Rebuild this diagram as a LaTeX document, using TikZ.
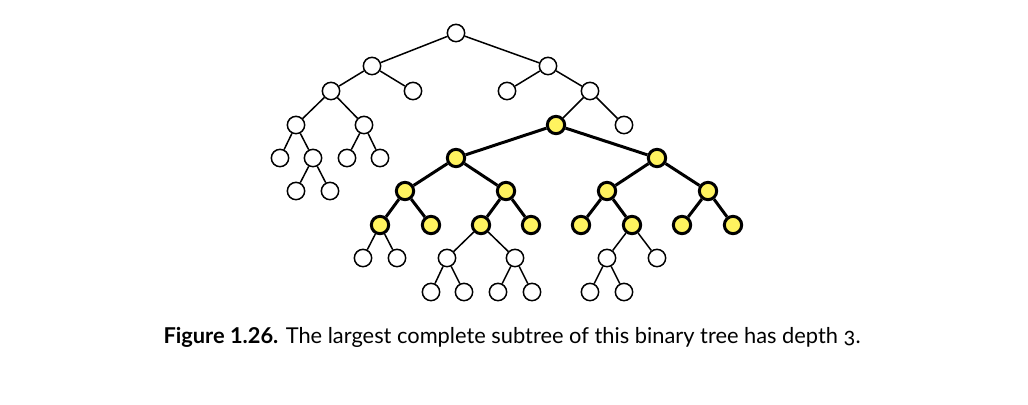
\documentclass[tikz,border=0pt]{standalone}
\usepackage{fontspec}
\setmainfont{Lato}
\definecolor{subtree}{HTML}{FFF35F}

\begin{document}
\begin{tikzpicture}[x=0.6pt,y=-0.6pt,
    vtx/.style={circle,draw,fill=white,line width=0.9pt,minimum size=10.4pt,inner sep=0pt},
    hot/.style={vtx,fill=subtree,line width=1.8pt},
    hotedge/.style={line width=1.8pt}]
  \useasboundingbox (0,0) rectangle (1028,404);
  % Plain vertices
  \foreach \n/\x/\y in {r/456/33, n0/372/66, n1/548/66,
      n00/331/91, n01/413/91, n10/507/91, n11/590/91,
      n000/296/125, n001/364/125, n111/624/125,
      n0000/280/158, n0001/313/158, n0010/347/158, n0011/380/158,
      n00010/296/191, n00011/330/191,
      n1100000/363/258, n1100001/397/258,
      n1100100/447/258, n1100101/515/258,
      n1101010/607/258, n1101011/657/258,
      n11001000/431/292, n11001001/464/292,
      n11001010/498/292, n11001011/532/292,
      n11010100/590/292, n11010101/624/292}
    \node[vtx] (\n) at (\x,\y) {};
  % Complete subtree
  \foreach \n/\x/\y in {n110/556/125,
      n1100/456/158, n1101/657/158,
      n11000/405/191, n11001/506/191, n11010/607/191, n11011/708/191,
      n110000/380/225, n110001/431/225, n110010/481/225, n110011/531/225,
      n110100/581/225, n110101/632/225, n110110/682/225, n110111/733/225}
    \node[hot] (\n) at (\x,\y) {};
  % Edges
  \foreach \a/\b in {r/n0, r/n1, n0/n00, n0/n01, n1/n10, n1/n11,
      n00/n000, n00/n001, n11/n110, n11/n111,
      n000/n0000, n000/n0001, n001/n0010, n001/n0011,
      n0001/n00010, n0001/n00011,
      n110000/n1100000, n110000/n1100001,
      n110010/n1100100, n110010/n1100101,
      n110101/n1101010, n110101/n1101011,
      n1100100/n11001000, n1100100/n11001001,
      n1100101/n11001010, n1100101/n11001011,
      n1101010/n11010100, n1101010/n11010101}
    \draw[line width=0.9pt] (\a) -- (\b);
  \foreach \a/\b in {n110/n1100, n110/n1101,
      n1100/n11000, n1100/n11001, n1101/n11010, n1101/n11011,
      n11000/n110000, n11000/n110001, n11001/n110010, n11001/n110011,
      n11010/n110100, n11010/n110101, n11011/n110110, n11011/n110111}
    \draw[hotedge] (\a) -- (\b);
  % Caption
  \node (cap) at (512,337) {\fontsize{13.1pt}{16pt}\selectfont
    \textbf{Figure 1.26.} The largest complete subtree of this binary tree has depth {\addfontfeature{Numbers=OldStyle}3}.};
\end{tikzpicture}
\end{document}
